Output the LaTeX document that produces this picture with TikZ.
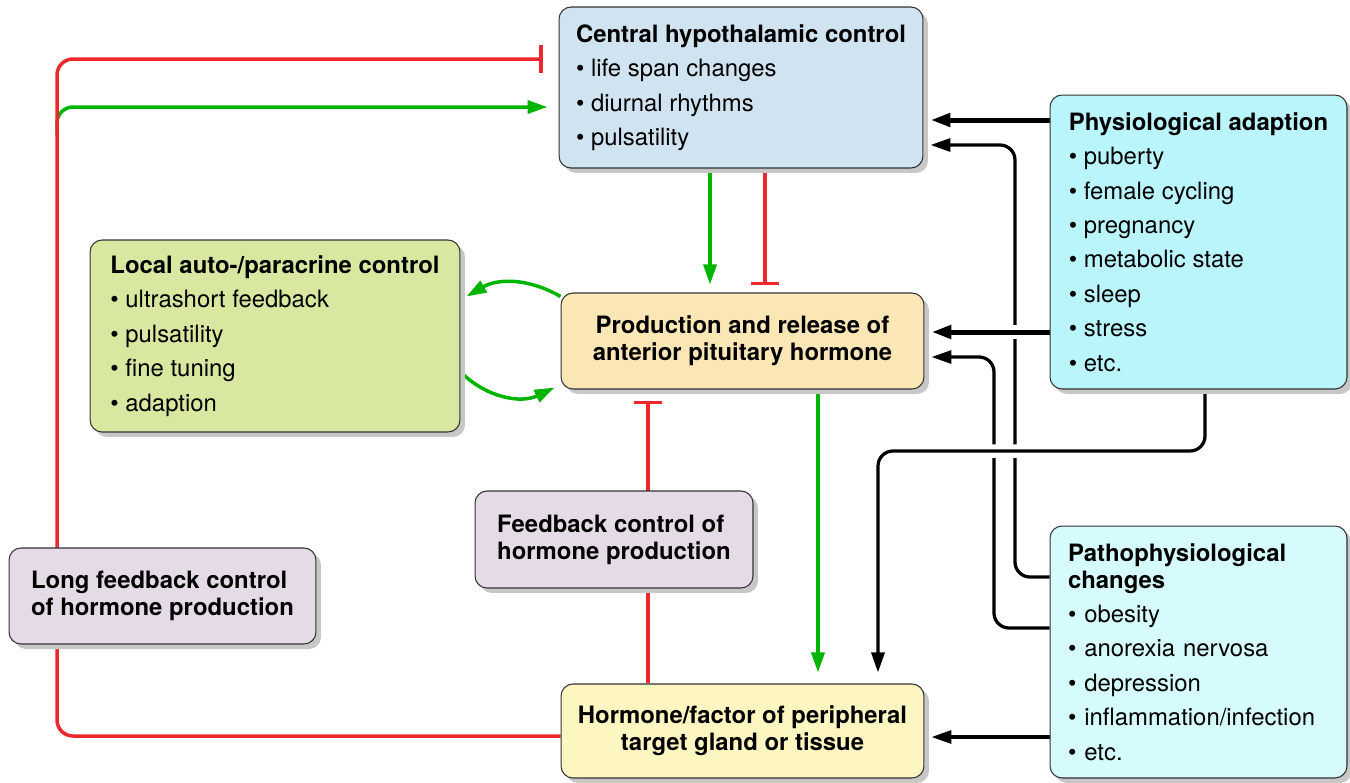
\documentclass[tikz,border=0pt]{standalone}
\usepackage{fontspec}
\setmainfont{TeX Gyre Heros}
\usetikzlibrary{arrows.meta,shadows,backgrounds}

\definecolor{hypblue}{RGB}{208,227,240}
\definecolor{physcyan}{RGB}{186,245,252}
\definecolor{pathcyan}{RGB}{213,251,252}
\definecolor{localgreen}{RGB}{217,232,160}
\definecolor{prodorange}{RGB}{251,230,182}
\definecolor{periyellow}{RGB}{254,246,192}
\definecolor{fblilac}{RGB}{229,219,230}
\definecolor{stimgreen}{RGB}{0,180,0}
\definecolor{inhibred}{RGB}{236,40,44}

\begin{document}
\begin{tikzpicture}[x=0.02cm,y=-0.02cm,
  box/.style={draw=black!80,line width=0.6pt,rounded corners=0.24cm,inner sep=0pt,
    drop shadow={shadow xshift=0.1cm,shadow yshift=-0.1cm,fill=black!22,opacity=1},
    font=\fontsize{13.6}{15.3}\selectfont},
  stim/.style={draw=stimgreen,line width=0.07cm,-{Triangle[length=0.4cm,width=0.26cm]}},
  inhib/.style={draw=inhibred,line width=0.07cm,-{Bar[width=0.56cm]}},
  drive/.style={draw=black,line width=0.065cm,rounded corners=0.3cm,-{Triangle[length=0.4cm,width=0.26cm]}},
  gap/.style={preaction={draw=white,line width=0.27cm,-}}]
\useasboundingbox (0,0) rectangle (1350,782);

\node[box,fill=hypblue,minimum width=7.28cm,minimum height=3.22cm,align=left] (CH) at (741,87.5)
  {\textbf{Central hypothalamic control}\\[4.3pt]• life span changes\\[4.3pt]• diurnal rhythms\\[4.3pt]• pulsatility};
\node[box,fill=physcyan,minimum width=5.94cm,minimum height=5.88cm,align=left] (PA) at (1198.5,242)
  {\textbf{Physiological adaption}\\[4.3pt]• puberty\\[4.3pt]• female cycling\\[4.3pt]• pregnancy\\[4.3pt]• metabolic state\\[4.3pt]• sleep\\[4.3pt]• stress\\[4.3pt]• etc.};
\node[box,fill=localgreen,minimum width=7.4cm,minimum height=3.84cm,align=left] (LA) at (275,336)
  {\textbf{Local auto-/paracrine control}\\[4.3pt]• ultrashort feedback\\[4.3pt]• pulsatility\\[4.3pt]• fine tuning\\[4.3pt]• adaption};
\node[box,fill=prodorange,minimum width=7.26cm,minimum height=1.92cm,align=center,font=\fontsize{13.6}{15.3}\bfseries] (PR) at (742.5,341)
  {Production and release of\\anterior pituitary hormone};
\node[box,fill=fblilac,minimum width=5.56cm,minimum height=1.94cm,align=left,font=\fontsize{13.6}{15.3}\bfseries] (FB) at (614,539.5)
  {Feedback control of\\hormone production};
\node[box,fill=fblilac,minimum width=6.14cm,minimum height=1.92cm,align=left,font=\fontsize{13.6}{15.3}\bfseries] (LF) at (162.5,596)
  {Long feedback control\\of hormone production};
\node[box,fill=pathcyan,inner xsep=0.36cm,text width=5.22cm,minimum height=5.04cm,align=left] (PP) at (1198.5,652)
  {\textbf{Pathophysiological}\\\textbf{changes}\\[4.3pt]• obesity\\[4.3pt]• anorexia nervosa\\[4.3pt]• depression\\[4.3pt]• inflammation/infection\\[4.3pt]• etc.};
\node[box,fill=periyellow,minimum width=7.26cm,minimum height=1.88cm,align=center,font=\fontsize{13.6}{15.3}\bfseries] (HF) at (742.5,731)
  {Hormone/factor of peripheral\\target gland or tissue};

\begin{pgfonlayer}{background}
\draw[stim,rounded corners=0.32cm,shorten >=0.22cm] (57,135) |- (CH.west |- 0,107);
\draw[inhib,rounded corners=0.32cm,shorten >=0.32cm] ([yshift=-0.1cm]HF.west) -| (57,59) -- (CH.west |- 0,59);
\draw[stim,shorten >=0.16cm] (CH.south -| 710,0) -- (PR.north -| 710,0);
\draw[inhib,shorten >=0.14cm] (CH.south -| 765,0) -- (PR.north -| 765,0);
\draw[stim] ([yshift=-0.08cm]PR.north west) to[bend right=30] ([xshift=0.12cm,yshift=-0.08cm]LA.east |- PR.north);
\draw[stim] ([yshift=-0.72cm]LA.east) to[bend right=35] ([xshift=-0.12cm,yshift=0.04cm]PR.south west);
\draw[stim,shorten >=0.22cm] (PR.south -| 818,0) -- (HF.north -| 818,0);
\draw[inhib,shorten >=0.22cm] (HF.north -| 648,0) -- (PR.south -| 648,0);
\draw[drive,shorten >=0.14cm] (PP.west |- 0,577) -| (1015,145) -- (CH.east |- 0,145);
\draw[drive,shorten >=0.14cm] (PP.west |- 0,628) -| (994,357) -- (PR.east |- 0,357);
\draw[drive,line width=0.1cm,shorten >=0.14cm] (PA.west |- 0,120) -- (CH.east |- 0,120);
\draw[drive,gap,line width=0.1cm,shorten >=0.14cm] (PA.west |- 0,332) -- (PR.east |- 0,332);
\draw[drive,gap,shorten >=0.22cm] (PA.south -| 1205,0) |- (878,451) -- (HF.north -| 878,0);
\draw[drive,shorten >=0.14cm] (PP.west |- 0,737) -- (HF.east |- 0,737);
\end{pgfonlayer}
\end{tikzpicture}
\end{document}
